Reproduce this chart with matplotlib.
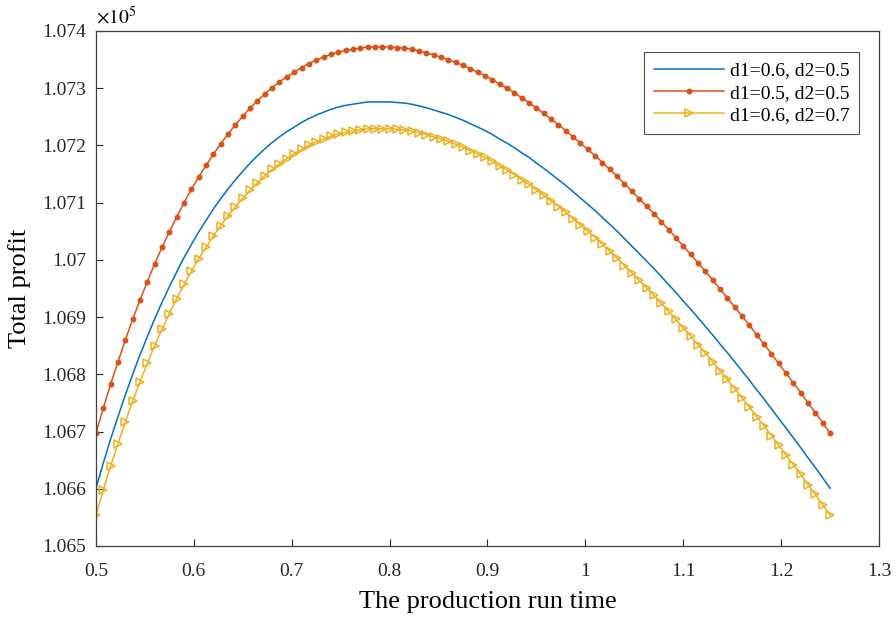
import numpy as np
import matplotlib
matplotlib.use('Agg')
import matplotlib.pyplot as plt

# production run time grid (0.5 : 0.0075 : 1.25)
run_time = np.linspace(0.5, 1.25, 101)

# total profit, in units of 1e5
profit_06_05 = [
    1.06601, 1.06645, 1.06687, 1.06726, 1.06764, 1.06800, 1.06834, 1.06866, 1.06897, 1.06926,
    1.06953, 1.06979, 1.07004, 1.07027, 1.07049, 1.07069, 1.07089, 1.07107, 1.07124, 1.07140,
    1.07155, 1.07169, 1.07182, 1.07194, 1.07205, 1.07215, 1.07224, 1.07232, 1.07240, 1.07247,
    1.07253, 1.07258, 1.07263, 1.07267, 1.07270, 1.07272, 1.07274, 1.07276, 1.07276, 1.07276,
    1.07276, 1.07275, 1.07274, 1.07272, 1.07269, 1.07266, 1.07262, 1.07258, 1.07254, 1.07249,
    1.07244, 1.07238, 1.07232, 1.07226, 1.07219, 1.07211, 1.07204, 1.07196, 1.07187, 1.07179,
    1.07169, 1.07160, 1.07150, 1.07140, 1.07130, 1.07119, 1.07108, 1.07097, 1.07086, 1.07074,
    1.07062, 1.07050, 1.07037, 1.07024, 1.07011, 1.06998, 1.06985, 1.06971, 1.06957, 1.06943,
    1.06928, 1.06914, 1.06899, 1.06884, 1.06869, 1.06853, 1.06838, 1.06822, 1.06806, 1.06790,
    1.06773, 1.06757, 1.06740, 1.06723, 1.06706, 1.06689, 1.06672, 1.06654, 1.06637, 1.06619,
    1.06601]

profit_05_05 = [
    1.06697, 1.06741, 1.06783, 1.06822, 1.06860, 1.06896, 1.06930, 1.06962, 1.06993, 1.07022,
    1.07049, 1.07075, 1.07100, 1.07123, 1.07145, 1.07165, 1.07185, 1.07203, 1.07220, 1.07236,
    1.07251, 1.07265, 1.07278, 1.07290, 1.07301, 1.07311, 1.07320, 1.07328, 1.07336, 1.07343,
    1.07349, 1.07354, 1.07359, 1.07363, 1.07366, 1.07368, 1.07370, 1.07372, 1.07372, 1.07372,
    1.07372, 1.07371, 1.07370, 1.07368, 1.07365, 1.07362, 1.07358, 1.07354, 1.07350, 1.07345,
    1.07340, 1.07334, 1.07328, 1.07322, 1.07315, 1.07307, 1.07300, 1.07292, 1.07283, 1.07275,
    1.07265, 1.07256, 1.07246, 1.07236, 1.07226, 1.07215, 1.07204, 1.07193, 1.07182, 1.07170,
    1.07158, 1.07146, 1.07133, 1.07120, 1.07107, 1.07094, 1.07081, 1.07067, 1.07053, 1.07039,
    1.07024, 1.07010, 1.06995, 1.06980, 1.06965, 1.06949, 1.06934, 1.06918, 1.06902, 1.06886,
    1.06869, 1.06853, 1.06836, 1.06819, 1.06802, 1.06785, 1.06768, 1.06750, 1.06733, 1.06715,
    1.06697]

profit_06_07 = [
    1.06554, 1.06598, 1.06640, 1.06679, 1.06717, 1.06753, 1.06787, 1.06819, 1.06850, 1.06879,
    1.06906, 1.06932, 1.06957, 1.06980, 1.07002, 1.07022, 1.07042, 1.07060, 1.07077, 1.07093,
    1.07108, 1.07122, 1.07135, 1.07147, 1.07158, 1.07168, 1.07177, 1.07185, 1.07193, 1.07200,
    1.07206, 1.07211, 1.07216, 1.07220, 1.07223, 1.07225, 1.07227, 1.07229, 1.07229, 1.07229,
    1.07229, 1.07228, 1.07227, 1.07225, 1.07222, 1.07219, 1.07215, 1.07211, 1.07207, 1.07202,
    1.07197, 1.07191, 1.07185, 1.07179, 1.07172, 1.07164, 1.07157, 1.07149, 1.07140, 1.07132,
    1.07122, 1.07113, 1.07103, 1.07093, 1.07083, 1.07072, 1.07061, 1.07050, 1.07039, 1.07027,
    1.07015, 1.07003, 1.06990, 1.06977, 1.06964, 1.06951, 1.06938, 1.06924, 1.06910, 1.06896,
    1.06881, 1.06867, 1.06852, 1.06837, 1.06822, 1.06806, 1.06791, 1.06775, 1.06759, 1.06743,
    1.06726, 1.06710, 1.06693, 1.06676, 1.06659, 1.06642, 1.06625, 1.06607, 1.06590, 1.06572,
    1.06554]

labels = ['d1=0.6, d2=0.5', 'd1=0.5, d2=0.5', 'd1=0.6, d2=0.7']
x_ticks = [0.5, 0.6, 0.7, 0.8, 0.9, 1.0, 1.1, 1.2, 1.3]
y_ticks = [1.065, 1.066, 1.067, 1.068, 1.069, 1.07, 1.071, 1.072, 1.073, 1.074]

plt.rcParams['font.family'] = ['Liberation Serif', 'DejaVu Serif']
plt.rcParams['mathtext.fontset'] = 'stix'

fig = plt.figure(figsize=(8.96, 6.17), dpi=100)
ax = fig.add_axes([0.1071, 0.1151, 0.8739, 0.8347])

ax.plot(run_time, profit_06_05, color='#0072BD', lw=1.1, label=labels[0])
ax.plot(run_time, profit_05_05, color='#D95319', lw=1.1, marker='.', ms=6.5, label=labels[1])
ax.plot(run_time, profit_06_07, color='#EDB120', lw=1.1, marker='>', ms=6,
        mfc='none', mew=1.1, label=labels[2])

ax.set_xlim(0.5, 1.3)
ax.set_ylim(1.065, 1.074)
ax.set_xticks(x_ticks)
ax.set_xticklabels(['%g' % t for t in x_ticks])
ax.set_yticks(y_ticks)
ax.set_yticklabels(['%g' % t for t in y_ticks])
ax.tick_params(direction='in', length=5, width=0.8, labelsize=14, colors='#262626')
ax.tick_params(axis='x', pad=12)
ax.tick_params(axis='y', pad=7)
for s in ax.spines.values():
    s.set_color('#404040')
    s.set_linewidth(0.9)

ax.set_xlabel('The production run time', fontsize=19, labelpad=8)
ax.set_ylabel('Total profit', fontsize=19, labelpad=8)
ax.text(0.0, 1.006, r'$\times 10^{5}$', transform=ax.transAxes, fontsize=14,
        ha='left', va='bottom')

leg = ax.legend(loc='upper right', bbox_to_anchor=(0.9745, 0.9592), borderaxespad=0,
                fontsize=14, fancybox=False, handlelength=3.6, handletextpad=0.3,
                numpoints=1, labelspacing=0.25, borderpad=0.5)
leg.get_frame().set_edgecolor('#262626')
leg.get_frame().set_linewidth(0.8)

fig.savefig('out.png', dpi=100)
